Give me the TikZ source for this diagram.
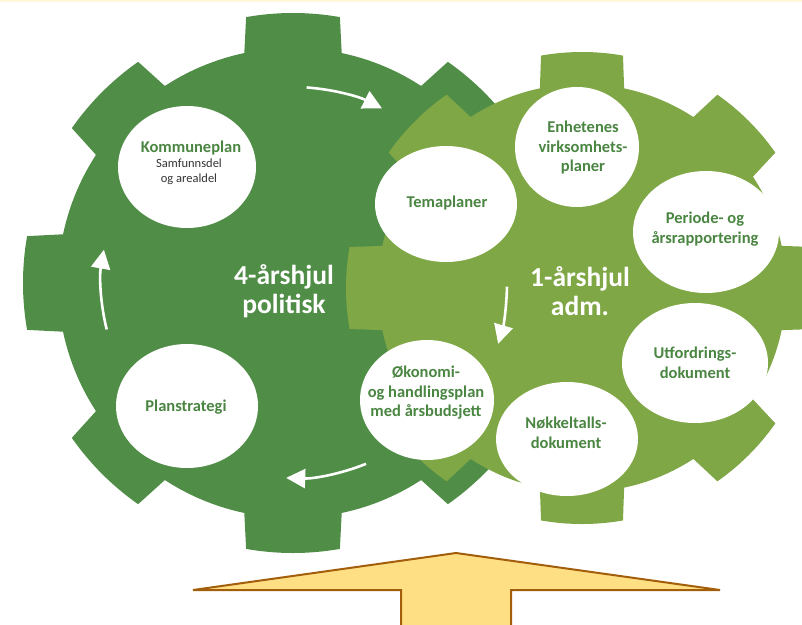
\documentclass[tikz,border=0pt]{standalone}
\usepackage{fontspec}
\setmainfont{Carlito}
\usetikzlibrary{shapes.geometric,arrows.meta,calc}
\definecolor{dkg}{HTML}{508D47}
\definecolor{ltg}{HTML}{7FA745}
\definecolor{txg}{HTML}{4A8642}
\definecolor{subtx}{HTML}{333333}
\definecolor{arrfill}{HTML}{FFDF84}
\definecolor{arrline}{HTML}{A35E0B}
\definecolor{topband}{HTML}{FFF7DA}
\newcommand\mygear[4]{%
  \fill[#4] (#1) circle[radius=#3];
  \foreach \a in {0,45,...,315}{%
    \fill[#4] ($(#1)+({\a-12.5}:{#3-8})$) -- ($(#1)+({\a-10}:#2)$)
      arc[start angle=\a-10,end angle=\a+10,radius=#2]
      -- ($(#1)+({\a+12.5}:{#3-8})$) -- cycle;
  }%
}
\begin{document}
\begin{tikzpicture}[x=1pt,y=-1pt,
  bubble/.style={ellipse,fill=white,inner sep=0pt},
  btext/.style={text=txg,align=center,inner sep=0pt,font=\bfseries\fontsize{16.5}{19.5}\selectfont},
  stext/.style={text=subtx,align=center,inner sep=0pt,font=\fontsize{12.5}{15}\selectfont},
  big/.style={text=white,align=center,inner sep=0pt,font=\bfseries\fontsize{27.5}{29}\selectfont},
  cyc/.style={white,line width=2.6pt,-{Triangle[length=19pt,width=19pt]}},
  bigarrow/.style={fill=arrfill,draw=arrline,line width=2pt,line join=miter}]
\useasboundingbox (0,0) rectangle (802,624);
\clip (0,0) rectangle (802,624);
\fill[topband] (0,0) rectangle (802,2);
% gears
\coordinate (lc) at (293,283);
\coordinate (rc) at (582,288);
\mygear{lc}{270}{235}{dkg}
\mygear{rc}{236}{204}{ltg}
% cycle arrows
\draw[cyc] ($(lc)+(-86:196)$) arc[start angle=-86,end angle=-63,radius=196];
\draw[cyc] ($(lc)+(1:214)$) arc[start angle=1,end angle=16.5,radius=214];
\draw[cyc] ($(lc)+(68:195)$) arc[start angle=68,end angle=92,radius=195];
\draw[cyc] ($(lc)+(166:192)$) arc[start angle=166,end angle=190,radius=192];
% bubbles
\node[bubble,minimum width=138,minimum height=122] (k) at (187,167) {};
\node[bubble,minimum width=142,minimum height=124] (p) at (187,406) {};
\node[bubble,minimum width=142,minimum height=116] (t) at (446,204) {};
\node[bubble,minimum width=124,minimum height=120] (e) at (577,147) {};
\node[bubble,minimum width=146,minimum height=122] (pr) at (706,232) {};
\node[bubble,minimum width=146,minimum height=120] (u) at (695,363) {};
\node[bubble,minimum width=142,minimum height=114] (n) at (567,439) {};
\node[bubble,minimum width=134,minimum height=120] (o) at (427,400) {};
% bubble texts
\node[btext] (kt) at (191,148) {Kommuneplan};
\node[stext] (ks) at (189,172) {Samfunnsdel\\og arealdel};
\node[btext] (pt) at (186,407) {Planstrategi};
\node[btext] (tt) at (447,203) {Temaplaner};
\node[btext] (et) at (583,148) {Enhetenes\\virksomhets-\\planer};
\node[btext] (prt) at (705,229) {Periode- og\\årsrapportering};
\node[btext] (ut) at (695,363) {Utfordrings-\\dokument};
\node[btext] (nt) at (566,433) {Nøkkeltalls-\\dokument};
\node[btext] (ot) at (426,393) {Økonomi-\\og handlingsplan\\med årsbudsjett};
% big labels
\node[big] (l4) at (284,291) {4-årshjul\\politisk};
\node[big] (l1) at (580,291) {1-årshjul\\adm.};
% bottom arrow
\draw[bigarrow] (193,590) -- (456,553) -- (720,590) -- (511,590) -- (511,632) -- (401,632) -- (401,590) -- cycle;
\end{tikzpicture}
\end{document}
